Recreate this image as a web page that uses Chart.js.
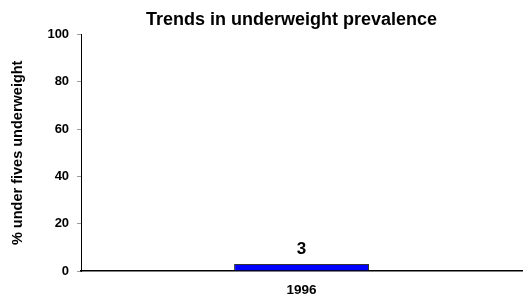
<!DOCTYPE html>
<html>
<head>
<meta charset="utf-8">
<script src="https://cdn.jsdelivr.net/npm/chart.js@4"></script>
<style>
  html, body { margin: 0; padding: 0; background: #fff; }
  #wrap { width: 525px; height: 297px; }
</style>
</head>
<body>
<div id="wrap"><canvas id="chart"></canvas></div>
<script>
const years = ['1996'];
const underweight = [3];
const yTicks = [0, 20, 40, 60, 80, 100];

const font = 'Arial, "Liberation Sans", sans-serif';

// Value labels above each bar
const valueLabels = {
    id: 'valueLabels',
    afterDatasetsDraw(chart) {
        const ctx = chart.ctx;
        const meta = chart.getDatasetMeta(0);
        ctx.save();
        ctx.font = 'bold 17px ' + font;
        ctx.fillStyle = '#000';
        ctx.textAlign = 'center';
        ctx.textBaseline = 'bottom';
        meta.data.forEach((bar, i) => {
            ctx.fillText(String(underweight[i]), bar.x, bar.y - 6);
        });
        ctx.restore();
    }
};

// The original title sits a bit right of the canvas centre
const shiftTitle = {
    id: 'shiftTitle',
    afterLayout(chart) {
        if (chart.titleBlock) chart.titleBlock.left += 57;
    }
};

new Chart(document.getElementById('chart'), {
    type: 'bar',
    data: {
        labels: years,
        datasets: [{
            data: underweight,
            backgroundColor: '#0000ff',
            borderColor: '#333333',
            borderWidth: 1,
            categoryPercentage: 0.306,
            barPercentage: 1
        }]
    },
    options: {
        responsive: true,
        maintainAspectRatio: false,
        animation: false,
        layout: { padding: { left: 4, right: 3, top: 0, bottom: 0 } },
        plugins: {
            legend: { display: false },
            tooltip: { enabled: false },
            title: {
                display: true,
                text: 'Trends in underweight prevalence',
                color: '#000',
                font: { family: font, size: 18, weight: 'bold' },
                padding: { top: 9, bottom: 4 }
            }
        },
        scales: {
            x: {
                afterFit(scale) { scale.height = 26; },
                grid: { display: false, drawTicks: false },
                border: { color: '#000', width: 1.5 },
                ticks: {
                    color: '#000',
                    font: { family: font, size: 13.5, weight: 'bold', lineHeight: 1 },
                    padding: 13
                }
            },
            y: {
                min: 0,
                max: 100,
                afterBuildTicks(axis) {
                    axis.ticks = yTicks.map(v => ({ value: v }));
                },
                grid: {
                    drawOnChartArea: false,
                    drawTicks: true,
                    tickLength: 4,
                    color: '#999'
                },
                border: { color: '#000', width: 1 },
                ticks: {
                    color: '#000',
                    font: { family: font, size: 13, weight: 'bold' },
                    padding: 8
                },
                title: {
                    display: true,
                    text: '% under fives underweight',
                    color: '#000',
                    font: { family: font, size: 14.5, weight: 'bold' },
                    padding: { top: 5, bottom: 13 }
                }
            }
        }
    },
    plugins: [valueLabels, shiftTitle]
});
</script>
</body>
</html>
